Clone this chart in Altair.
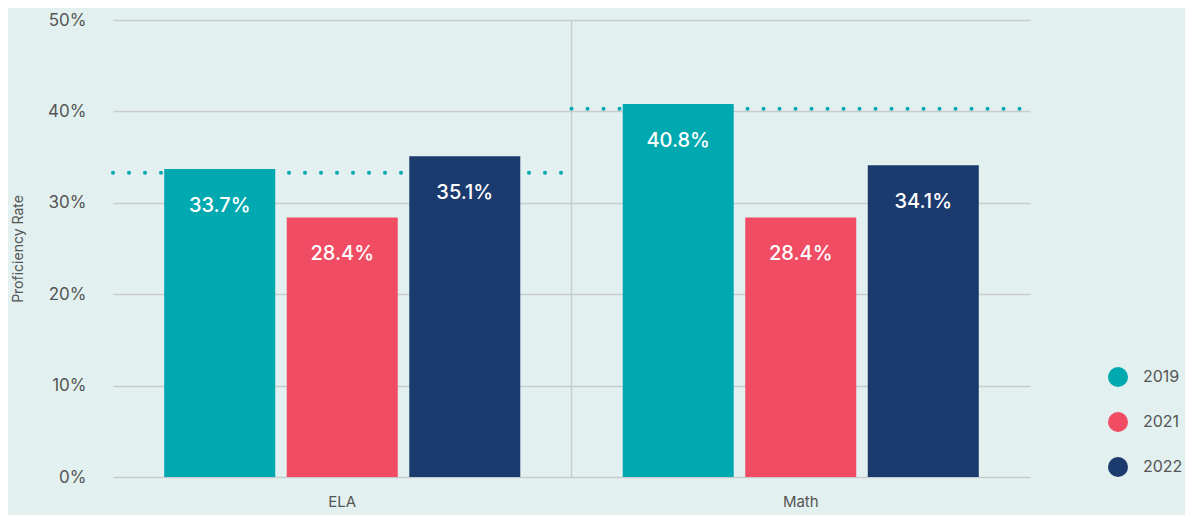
import altair as alt
import pandas as pd

subjects = ["ELA", "Math"]
years = ["2019", "2021", "2022"]
ela_values = [33.7, 28.4, 35.1]
math_values = [40.8, 28.4, 34.1]
benchmark_values = [33.3, 40.3]
year_colors = ["#00a8b0", "#f04c64", "#1b3a6e"]
y_ticks = [0, 10, 20, 30, 40, 50]

rows = []
for s, vals in zip(subjects, [ela_values, math_values]):
    for yr, v in zip(years, vals):
        rows.append({"subject": s, "year": yr, "value": v, "label": f"{v:.1f}%"})
df = pd.DataFrame(rows)
bench = pd.DataFrame({"subject": subjects, "value": benchmark_values})
sep = pd.DataFrame({"subject": ["Math"], "y0": [0], "y1": [50]})

FONT = "Inter"
x_scale = alt.Scale(domain=subjects, paddingInner=0, paddingOuter=0)
y_scale = alt.Scale(domain=[0, 50])

x_axis = alt.Axis(title=None, grid=False, ticks=False, domain=False, labelPadding=17,
                  labelFontSize=15, labelColor="#555555", labelFont=FONT, labelAngle=0)
y_axis = alt.Axis(title="Proficiency Rate", values=y_ticks, labelExpr="datum.value + '%'",
                  grid=True, gridColor="#c9cccc", gridWidth=1.5, ticks=False, domain=False,
                  labelPadding=27, labelFontSize=17, labelColor="#555555", labelFont=FONT,
                  titleFontSize=14, titleFont=FONT, titleColor="#555555", titleFontWeight="normal",
                  titlePadding=22)

base = alt.Chart(df)

bench_layer = alt.Chart(bench).mark_rule(
    color="#00a8b0", strokeWidth=4, strokeDash=[0, 16], strokeCap="round"
).encode(
    x=alt.X("subject:N", bandPosition=0, scale=x_scale, axis=x_axis),
    x2=alt.X2("subject", bandPosition=1),
    y=alt.Y("value:Q", scale=y_scale, axis=y_axis),
)

sep_layer = alt.Chart(sep).mark_rule(color="#c9cccc", strokeWidth=1.5).encode(
    x=alt.X("subject:N", bandPosition=0, scale=x_scale, axis=x_axis),
    y=alt.Y("y0:Q", scale=y_scale, axis=y_axis),
    y2="y1:Q",
)

off_scale = alt.Scale(domain=years, paddingInner=0.094, paddingOuter=0.418)

bars = base.mark_bar().encode(
    x=alt.X("subject:N", scale=x_scale, axis=x_axis),
    xOffset=alt.XOffset("year:N", scale=off_scale),
    y=alt.Y("value:Q", scale=y_scale, axis=y_axis),
    color=alt.Color("year:N", scale=alt.Scale(domain=years, range=year_colors),
                    legend=alt.Legend(title=None, orient="none", legendX=995, legendY=347,
                                      symbolType="circle", symbolSize=400, symbolStrokeWidth=0,
                                      labelFontSize=16, labelColor="#555555", labelFont=FONT,
                                      labelOffset=15, rowPadding=25)),
)

texts = base.mark_text(color="white", fontSize=20, font=FONT, fontWeight=500,
                       baseline="middle", dy=37).encode(
    x=alt.X("subject:N", scale=x_scale, axis=x_axis),
    xOffset=alt.XOffset("year:N", scale=off_scale),
    y=alt.Y("value:Q", scale=y_scale, axis=y_axis),
    text="label:N",
)

chart = alt.layer(sep_layer, bench_layer, bars, texts).properties(
    width=917, height=457,
    autosize=alt.AutoSizeParams(type="none"),
    padding={"left": 105, "top": 12, "right": 155, "bottom": 38},
    background="#e2f0f0",
).configure_view(stroke=None)

chart.save("out.html", embed_options={"renderer": "svg", "actions": False})
